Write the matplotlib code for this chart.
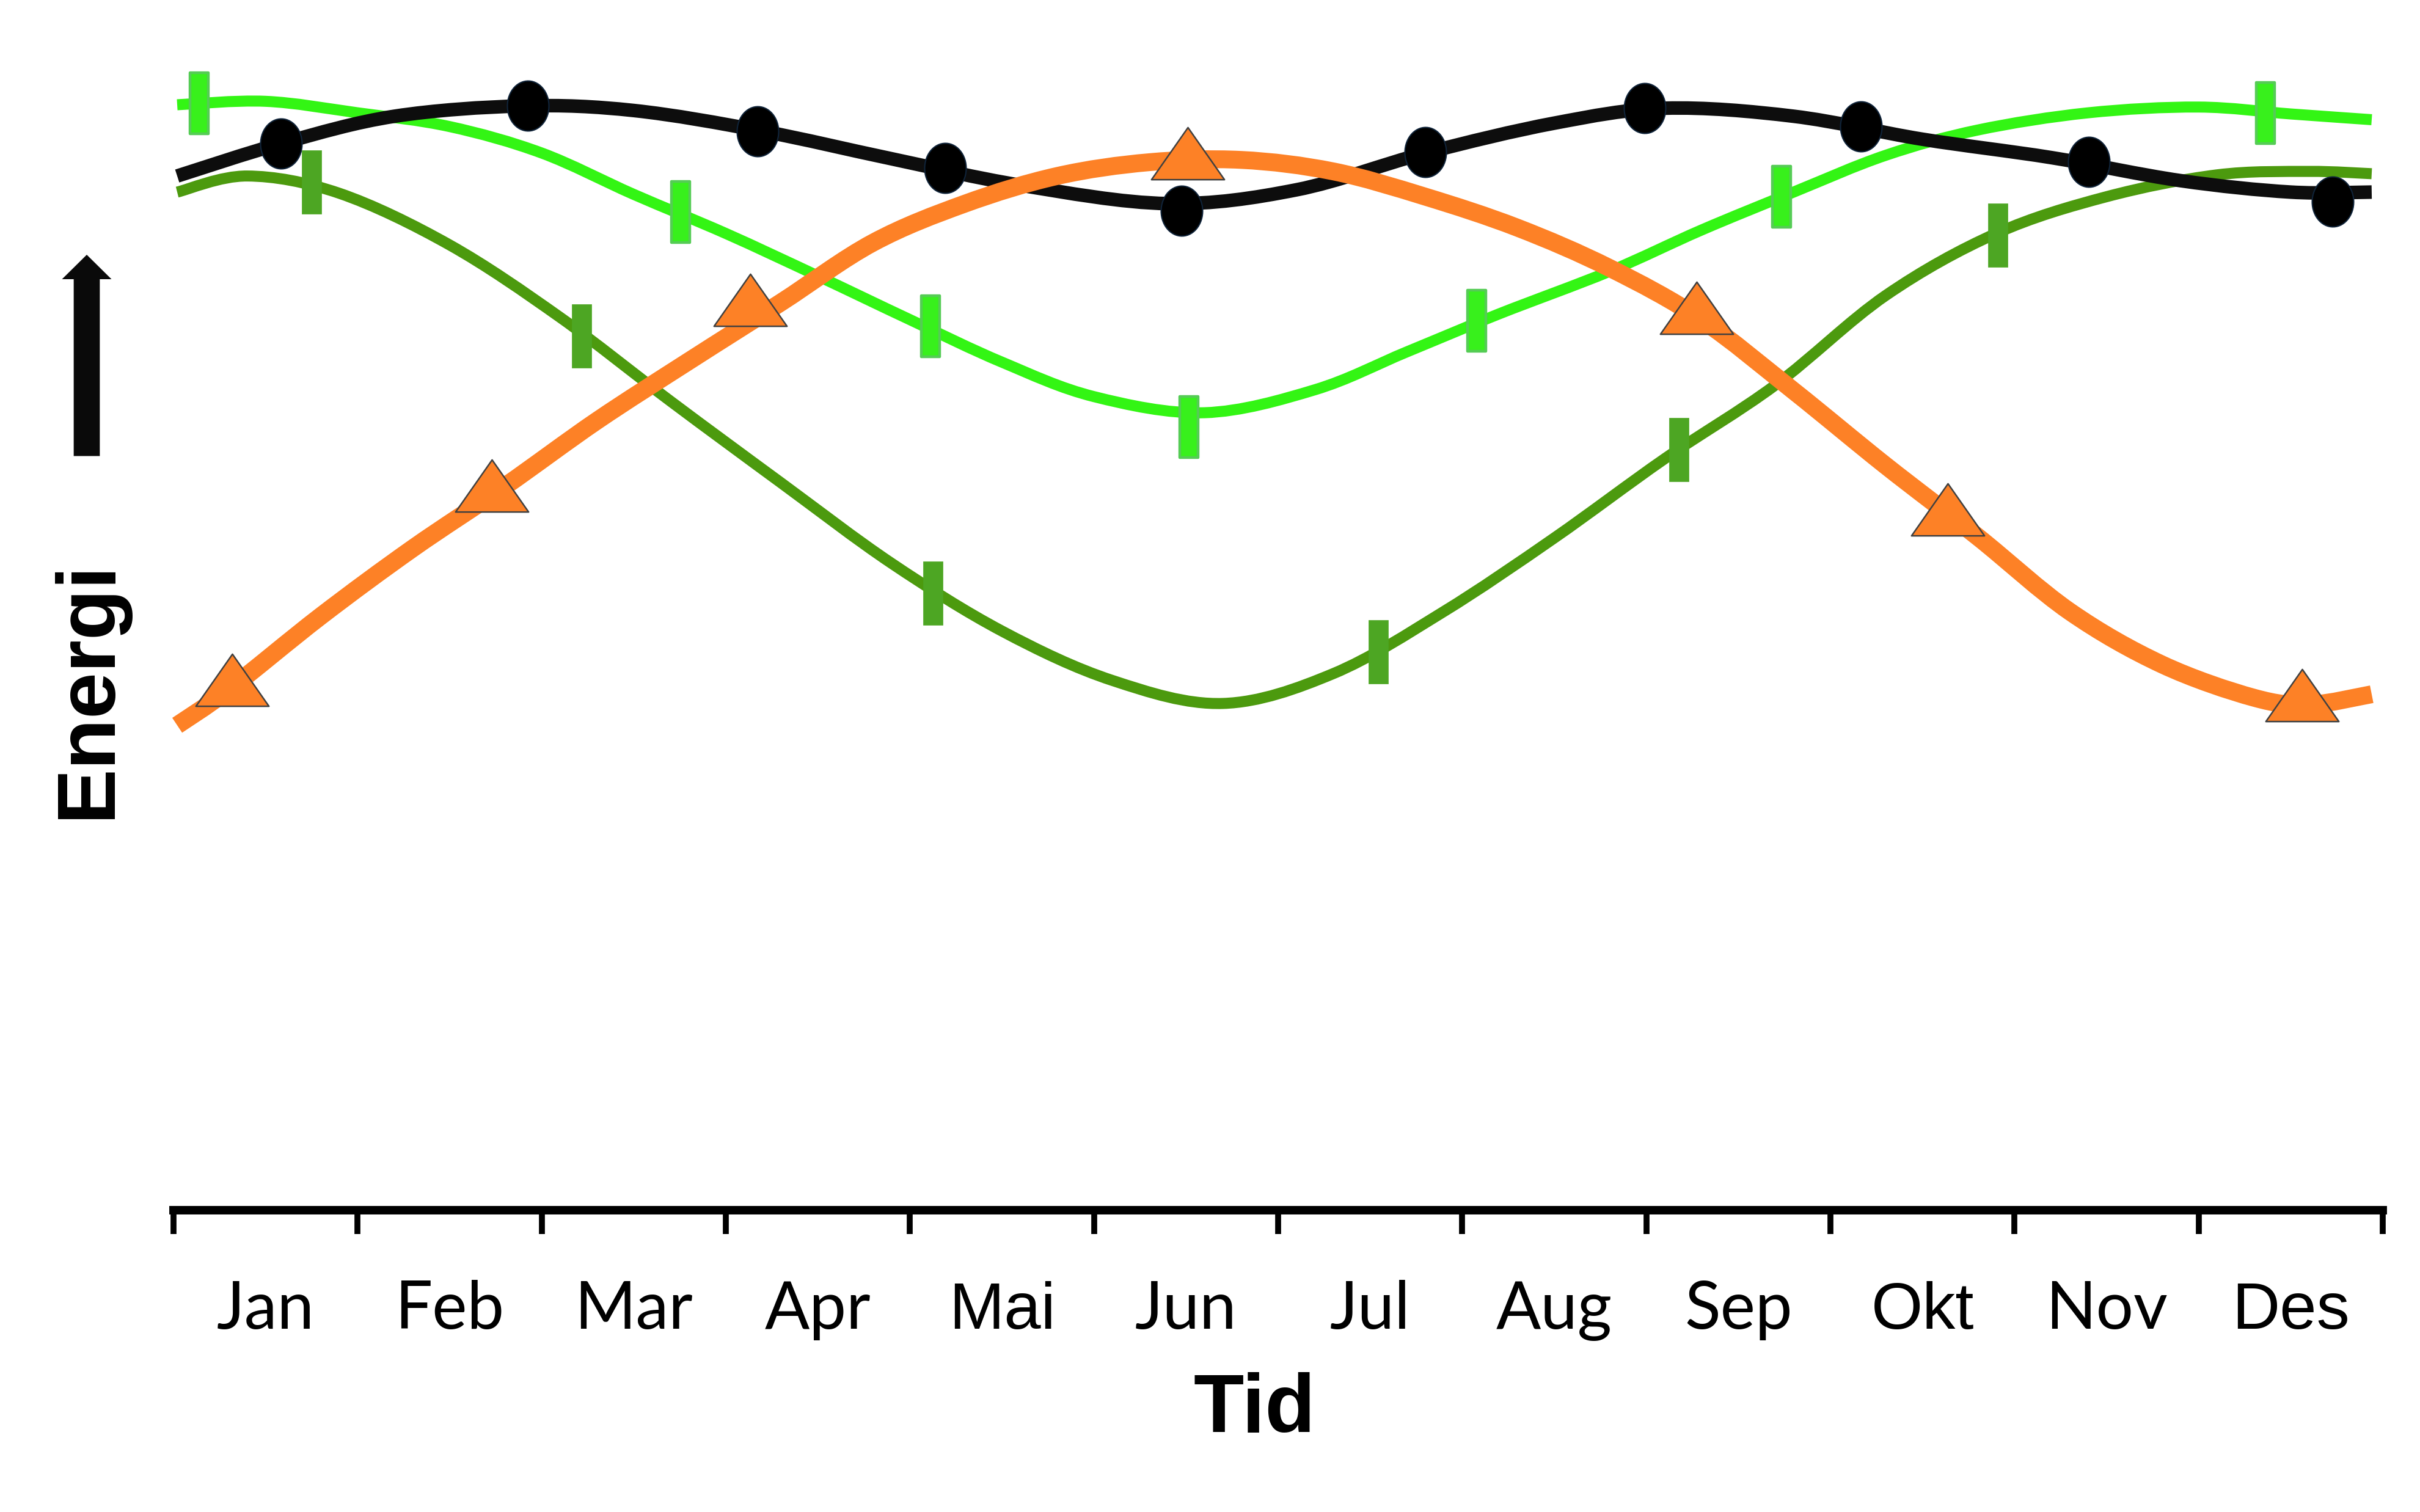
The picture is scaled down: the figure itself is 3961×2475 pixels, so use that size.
import numpy as np
import matplotlib
matplotlib.use("Agg")
import matplotlib.pyplot as plt
from matplotlib.path import Path
from matplotlib.patches import PathPatch, FancyArrow

# ---------------- data (x in months from start of Jan, y = energy, arbitrary units) -------------
month_labels = ["Jan", "Feb", "Mar", "Apr", "Mai", "Jun", "Jul", "Aug", "Sep", "Okt", "Nov", "Des"]
month_label_x = [0.5, 1.5, 2.5, 3.5, 4.5, 5.5, 6.5, 7.5, 8.5, 9.5, 10.5, 11.5]
month_ticks = [0, 1, 2, 3, 4, 5, 6, 7, 8, 9, 10, 11, 12]
arial_labels = ["Mai", "Okt", "Des"]

black_line_x = [0.02, 0.6, 1.2, 1.9, 2.5, 3.2, 3.9, 4.6, 5.4, 6.1, 6.8, 7.5, 8.1, 8.8, 9.5,
                10.2, 10.9, 11.5, 11.94]
black_line_y = [90.0, 92.9, 95.2, 96.1, 95.7, 93.9, 91.5, 89.2, 87.6, 88.8, 92.0, 94.6, 95.9, 95.2,
                93.2, 91.6, 89.6, 88.6, 88.6]
black_mark_x = [0.584, 1.925, 3.172, 4.191, 5.476, 6.800, 7.991, 9.166, 10.404, 11.728]
black_mark_y = [92.82, 96.12, 93.89, 90.70, 86.97, 92.08, 95.91, 94.31, 91.23, 87.77]

light_line_x = [0.02, 0.5, 1.0, 1.5, 2.0, 2.5, 3.0, 3.5, 4.0, 4.5, 5.0, 5.6, 6.2, 6.7, 7.2, 7.8,
                8.3, 8.8, 9.3, 9.8, 10.4, 11.0, 11.5, 11.94]
light_line_y = [96.2, 96.5, 95.5, 94.3, 92.0, 88.4, 85.0, 81.3, 77.5, 73.8, 70.8, 69.4, 71.4, 74.7,
                78.0, 81.7, 85.3, 88.6, 91.8, 94.0, 95.5, 96.0, 95.4, 94.9]
light_mark_x = [0.139, 2.754, 4.112, 5.516, 7.079, 8.735, 11.363]
light_mark_y = [96.33, 86.87, 76.93, 68.15, 77.41, 88.20, 95.48]

dark_line_x = [0.02, 0.4, 0.9, 1.5, 2.1, 2.7, 3.3, 3.9, 4.5, 5.1, 5.7, 6.3, 6.9, 7.5, 8.1, 8.7,
               9.3, 9.9, 10.5, 11.1, 11.6, 11.94]
dark_line_y = [88.6, 90.0, 88.5, 84.0, 77.7, 70.4, 63.3, 56.3, 50.4, 46.1, 44.1, 46.7, 52.1, 58.5,
               65.4, 71.8, 79.6, 85.0, 88.2, 90.1, 90.4, 90.2]
dark_mark_x = [0.750, 2.217, 4.125, 6.544, 8.177, 9.909]
dark_mark_y = [89.47, 76.08, 53.69, 48.59, 66.19, 84.85]

orange_line_x = [0.02, 0.3, 0.8, 1.3, 1.8, 2.3, 2.8, 3.3, 3.8, 4.3, 4.8, 5.3, 5.8, 6.3, 6.8, 7.3,
                 7.8, 8.3, 8.8, 9.3, 9.8, 10.3, 10.8, 11.3, 11.6, 11.94]
orange_line_y = [42.2, 45.3, 51.7, 57.6, 63.0, 68.7, 73.9, 79.0, 84.2, 87.6, 90.0, 91.2, 91.4, 90.4,
                 88.2, 85.5, 82.0, 77.5, 71.3, 64.8, 58.6, 52.1, 47.5, 44.6, 44.0, 44.9]
orange_mark_x = [0.319, 1.729, 3.133, 5.509, 8.274, 9.637, 11.562]
orange_mark_y = [46.15, 63.05, 79.21, 91.97, 78.52, 60.98, 44.82]

x_title = "Tid"
y_title = "Energi"


def smooth_path(xs, ys):
    pts = np.column_stack([xs, ys]).astype(float)
    n = len(pts)
    verts = [pts[0]]
    codes = [Path.MOVETO]
    for i in range(n - 1):
        p0 = pts[i - 1] if i > 0 else pts[i]
        p1 = pts[i]
        p2 = pts[i + 1]
        p3 = pts[i + 2] if i + 2 < n else pts[i + 1]
        c1 = p1 + (p2 - p0) / 6.0
        c2 = p2 - (p3 - p1) / 6.0
        verts += [c1, c2, p2]
        codes += [Path.CURVE4] * 3
    return Path(verts, codes)


# marker shapes
t = np.linspace(0, 2 * np.pi, 60)
ellipse_marker = Path(np.column_stack([0.83 * np.cos(t), np.sin(t)]), closed=True)
bar_marker = Path([(-0.3, -1), (0.3, -1), (0.3, 1), (-0.3, 1), (-0.3, -1)], closed=True)
tri_marker = Path([(0, 0.714), (-1, -0.714), (1, -0.714), (0, 0.714)], closed=True)

W, H = 3962, 2475
fig = plt.figure(figsize=(W / 100, H / 100), dpi=100)
fig.patch.set_facecolor("white")
ax = fig.add_axes([284 / W, 1 - 1981 / H, (3900 - 284) / W, (1981 - 100) / H])
ax.set_xlim(0, 12)
ax.set_ylim(0, 100)

for s in ["top", "left", "right"]:
    ax.spines[s].set_visible(False)
ax.spines["bottom"].set_linewidth(10)
ax.spines["bottom"].set_color("black")
ax.set_yticks([])
ax.set_xticks(month_ticks)
ax.set_xticklabels([])
ax.tick_params(axis="x", direction="out", length=28, width=7, color="black")

# lines
series = [
    (dark_line_x, dark_line_y, "#4c9a0e", 13, 2),
    (light_line_x, light_line_y, "#33f514", 13, 3),
    (black_line_x, black_line_y, "#0d0d0d", 16, 4),
    (orange_line_x, orange_line_y, "#fd8126", 21, 5),
]
for xs, ys, col, lw, z in series:
    ax.add_patch(PathPatch(smooth_path(xs, ys), facecolor="none", edgecolor=col, lw=lw,
                           capstyle="butt", joinstyle="round", zorder=z, clip_on=False))

# markers
ax.plot(dark_mark_x, dark_mark_y, linestyle="none", marker=bar_marker, markersize=75,
        markerfacecolor="#4da623", markeredgecolor="#4da623", markeredgewidth=0.5, zorder=10, clip_on=False)
ax.plot(light_mark_x, light_mark_y, linestyle="none", marker=bar_marker, markersize=72,
        markerfacecolor="#38f01c", markeredgecolor="#55cc55", markeredgewidth=3.2, zorder=10, clip_on=False)
ax.plot(black_mark_x, black_mark_y, linestyle="none", marker=ellipse_marker, markersize=59,
        markerfacecolor="black", markeredgecolor="#10243a", markeredgewidth=1.5, zorder=11, clip_on=False)
ax.plot(orange_mark_x, orange_mark_y, linestyle="none", marker=tri_marker, markersize=86,
        markerfacecolor="#fd8126", markeredgecolor="#404040", markeredgewidth=1.8, zorder=12, clip_on=False)

# month labels
trans = ax.get_xaxis_transform()
for xv, lab in zip(month_label_x, month_labels):
    fam = "Liberation Sans" if lab in arial_labels else "Lato"
    ax.text(xv, -0.1031, lab, transform=trans, ha="center", va="baseline",
            fontsize=78, family=fam, color="black")

# axis titles
fig.text(2053 / W, 1 - 2344 / H, x_title, ha="center", va="baseline", fontsize=97,
         fontweight="bold", family="Liberation Sans")
fig.text(180 / W, 1 - 1128 / H, y_title, rotation=90, rotation_mode="anchor", ha="center",
         va="baseline", fontsize=98, fontweight="bold", family="Liberation Sans")

# arrow
arrow = FancyArrow(142 / W, 1 - 746.5 / H, 0, (746.5 - 417) / H, width=42.7 / W,
                   head_width=81 / W, head_length=40 / H, length_includes_head=True,
                   transform=fig.transFigure, color="#0a0a0a", lw=0)
fig.patches.append(arrow)

fig.savefig("out.png", dpi=100, facecolor="white")
